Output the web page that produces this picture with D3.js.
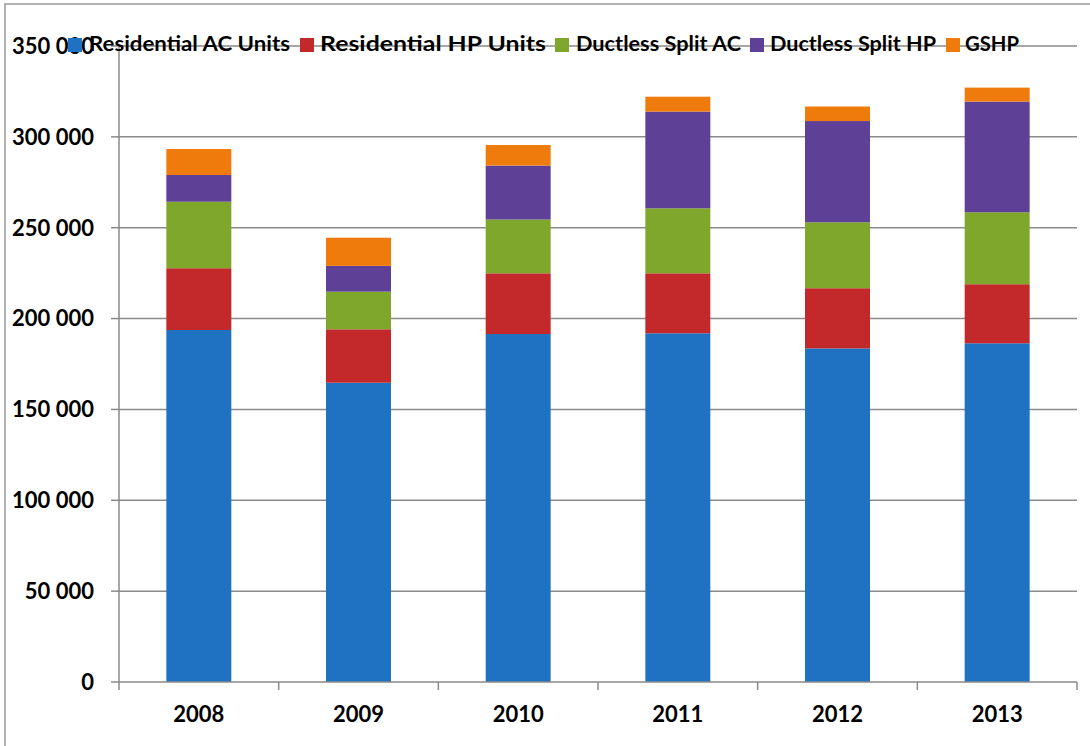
<!DOCTYPE html>
<html><head><meta charset="utf-8">
<script src="https://cdn.jsdelivr.net/npm/d3@7"></script>
<style>body{margin:0;background:#fff}svg{display:block}</style>
</head><body>
<script>
const years = ["2008","2009","2010","2011","2012","2013"];
const seriesNames = ["Residential AC Units","Residential HP Units","Ductless Split AC","Ductless Split HP","GSHP"];
const resAC   = [193700,164700,191500,191900,183600,186400];
const resHP   = [34000, 29400, 33400, 33000, 33100, 32500];
const ductAC  = [36600, 20700, 29600, 35800, 36300, 39600];
const ductHP  = [14700, 14200, 29700, 53200, 55700, 60900];
const gshp    = [14300, 15500, 11300, 8200,  8000,  7700];
const yTicks  = [0,50000,100000,150000,200000,250000,300000,350000];
const colors  = ["#1f71c1","#c3282b","#7fa72c","#5f4097","#ee7b0c"];

const W=1090,H=746;
const svg=d3.select("body").append("svg").attr("width",W).attr("height",H);
// outer frame
svg.append("rect").attr("x",5).attr("y",4).attr("width",W+20).attr("height",H+20)
  .attr("fill","none").attr("stroke","#9a9a9a").attr("stroke-width",1.5);

const x=d3.scaleBand().domain(years).range([119,1077]).paddingInner(0.593).paddingOuter(0.2965);
const y=d3.scaleLinear().domain([0,350000]).range([682,46]);

const table=years.map((yr,i)=>({year:yr,s0:resAC[i],s1:resHP[i],s2:ductAC[i],s3:ductHP[i],s4:gshp[i]}));
const stack=d3.stack().keys(["s0","s1","s2","s3","s4"])(table);

const fmt=v=>d3.format(",")(v).replace(/,/g," ");
// y labels
svg.append("g").selectAll("text").data(yTicks).join("text")
  .attr("x",94).attr("y",d=>y(d)).attr("dy","0.36em").attr("text-anchor","end")
  .attr("font-family","Lato, sans-serif").attr("font-weight","bold").attr("font-size",22).attr("fill","#000")
  .text(fmt);

// gridlines
svg.append("g").selectAll("line").data(yTicks.filter(d=>d>0)).join("line")
  .attr("x1",119).attr("x2",1077).attr("y1",d=>y(d)).attr("y2",d=>y(d))
  .attr("stroke","#8a8a8a").attr("stroke-width",1.5);

// bars
svg.append("g").selectAll("g").data(stack).join("g").attr("fill",(d,i)=>colors[i])
  .selectAll("rect").data(d=>d).join("rect")
  .attr("x",d=>x(d.data.year)).attr("width",x.bandwidth())
  .attr("y",d=>y(d[1])).attr("height",d=>y(d[0])-y(d[1]));

// axes
const ax=svg.append("g").attr("stroke","#8a8a8a").attr("stroke-width",1.5);
ax.append("line").attr("x1",119).attr("x2",119).attr("y1",46).attr("y2",682);
ax.append("line").attr("x1",119).attr("x2",1077).attr("y1",682).attr("y2",682);
ax.selectAll(".yt").data(yTicks).join("line").attr("class","yt")
  .attr("x1",111).attr("x2",119).attr("y1",d=>y(d)).attr("y2",d=>y(d));
const bounds=years.map(d=>x(d)-x.step()*x.paddingInner()/2).concat([1077]);
ax.selectAll(".xt").data(bounds).join("line").attr("class","xt")
  .attr("x1",d=>d).attr("x2",d=>d).attr("y1",682).attr("y2",690);

// x labels
svg.append("g").selectAll("text").data(years).join("text")
  .attr("x",d=>x(d)+x.bandwidth()/2).attr("y",722).attr("text-anchor","middle")
  .attr("font-family","Lato, sans-serif").attr("font-weight","bold").attr("font-size",22).attr("fill","#000")
  .text(d=>d);

// legend
const legX=[68,300,555,750,946];
const legTextX=[89,320,576,770,965];
const legW=[201,226,165,166,54];
const lg=svg.append("g");
seriesNames.forEach((n,i)=>{
  lg.append("rect").attr("x",legX[i]).attr("y",38).attr("width",14).attr("height",14).attr("fill",colors[i]);
  lg.append("text").attr("x",legTextX[i]).attr("y",51).attr("font-family","Lato, sans-serif")
    .attr("font-weight","bold").attr("font-size",20).attr("fill","#000")
    .attr("textLength",legW[i]).attr("lengthAdjust","spacingAndGlyphs").text(n);
});
</script>
</body></html>
